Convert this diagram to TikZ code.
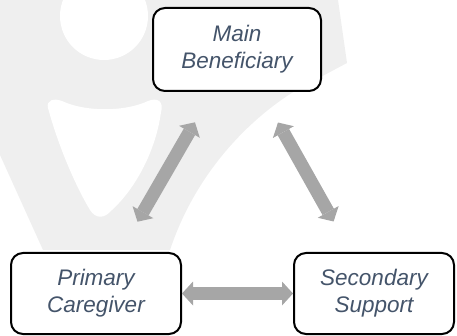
\documentclass[tikz,border=0pt]{standalone}
\usepackage{fontspec}
\setmainfont{Liberation Sans}
\usetikzlibrary{arrows.meta}
\definecolor{wmgray}{HTML}{EFEFEF}
\definecolor{arrgray}{HTML}{A6A6A6}
\definecolor{txtblue}{HTML}{44546A}
\tikzset{
  rolebox/.style={draw=black, line width=2pt, rounded corners=12pt, fill=white,
    align=center, text=txtblue, font=\itshape\fontsize{22.5}{27}\selectfont, inner sep=0pt},
  dblarr/.style={draw=arrgray, line width=13pt,
    {Triangle[width=24pt,length=11pt,line width=0pt]}-{Triangle[width=24pt,length=11pt,line width=0pt]}},
}
\begin{document}
\begin{tikzpicture}[x=1pt,y=-1pt]
\useasboundingbox (0,0) rectangle (457,336);
% watermark
\fill[wmgray] (0,0) -- (338,0) -- (347,63) -- (300,88)
  .. controls (265,108) and (200,160) .. (170,250) -- (43,250) -- (0,155) -- cycle;
\fill[white] (104,16) circle[radius=44];
\fill[white] (48,108) .. controls (46,100) and (54,98) .. (62,101)
  .. controls (85,112) and (125,112) .. (148,101)
  .. controls (158,97) and (164,102) .. (161,112)
  .. controls (156,150) and (136,188) .. (112,210)
  .. controls (104,219) and (96,219) .. (90,210)
  .. controls (75,185) and (58,145) .. (48,108) -- cycle;
% boxes
\node[rolebox, minimum width=168pt, minimum height=83pt] (main) at (237,49.5) {Main\\Beneficiary};
\node[rolebox, minimum width=170pt, minimum height=81pt] (pc) at (96,293.5) {Primary\\Caregiver};
\node[rolebox, minimum width=160pt, minimum height=81pt] (ss) at (374,293.5) {Secondary\\Support};
% arrows
\draw[dblarr, shorten <=35pt, shorten >=35pt] (main) -- (pc);
\draw[dblarr, shorten <=35pt, shorten >=35pt] (main) -- (ss);
\draw[dblarr] (pc) -- (ss);
\end{tikzpicture}
\end{document}
